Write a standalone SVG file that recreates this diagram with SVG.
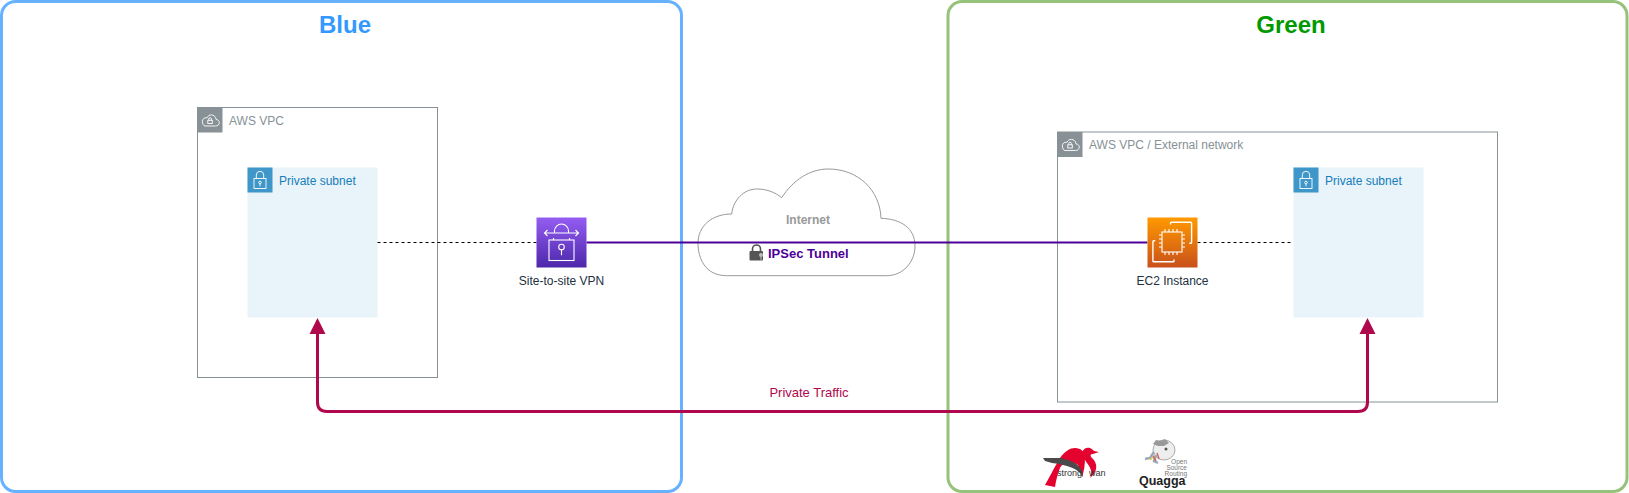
<svg xmlns="http://www.w3.org/2000/svg" width="1629" height="493" viewBox="0 0 1629 493">
<style>
text{font-family:"Liberation Sans",Arial,sans-serif;font-size:12px}
.mid{text-anchor:middle}
.vpc{fill:#fff;stroke:#879196;stroke-width:1}
.vpcicon{fill:#879196}
.vpctext{fill:#879196}
.sub{fill:#E9F3FA}
.subicon{fill:#3F97C9}
.subtext{fill:#147EBA}
.lbl{fill:#232F3E}
.ic{fill:none;stroke:#fff;stroke-width:1.1}
.pane{fill:#fff;stroke-width:3}
.title{font-size:24px;font-weight:bold}
</style>
<defs>
<linearGradient id="gv" x1="0" y1="1" x2="0" y2="0"><stop offset="0" stop-color="#4D27AA"/><stop offset="1" stop-color="#945DF2"/></linearGradient>
<linearGradient id="ge" x1="0" y1="1" x2="0" y2="0"><stop offset="0" stop-color="#C8511B"/><stop offset="1" stop-color="#FF9900"/></linearGradient>
<g id="vpcglyph"><path class="ic" d="M7.500 18.500h10.500c2.500 0 3.800-1.600 3.800-3.300 0-2-1.600-3.200-3.200-3.200-.2-3-2.500-4.600-4.800-4.600-2 0-3.600 1.200-4.300 2.900-2.800-.6-4.600 1.300-4.600 3.600 0 2.500 1.200 4.600 2.600 4.600z" style="stroke-width:.9"/><rect class="ic" x="10.300" y="12.800" width="4.500" height="3.200" style="stroke-width:.9"/><path class="ic" d="M11.200 12.800v-1.200a1.300 1.300 0 0 1 2.700 0v1.200" style="stroke-width:.9"/></g>
<g id="subglyph"><rect class="ic" x="6.500" y="11" width="12" height="10" style="stroke-width:.9"/><path class="ic" d="M8.800 11V7.500a3.700 3.700 0 0 1 7.400 0V11" style="stroke-width:.9"/><circle class="ic" cx="12.500" cy="15" r="1.300" style="stroke-width:.9"/><path class="ic" d="M12.500 16.300v2.500" style="stroke-width:.9"/></g>
</defs>

<g id="blue-region"><rect class="pane" x="1.500" y="1.500" width="680" height="490" rx="14" stroke="#66B2FF" fill="#fff"/><text class="title mid" x="345" y="33" fill="#3399FF">Blue</text></g>
<g id="green-region"><rect class="pane" x="948" y="1.500" width="679" height="490" rx="14" stroke="#97C27C" fill="none"/><text class="title mid" x="1291" y="33" fill="#009900">Green</text></g>

<g id="vpc-blue"><rect class="vpc" x="197.500" y="107.500" width="240" height="270"/><rect class="vpcicon" x="197.500" y="107.500" width="25" height="25"/><use href="#vpcglyph" x="197.500" y="107.500"/><text class="vpctext" x="229" y="125">AWS VPC</text></g>
<g id="subnet-blue"><rect class="sub" x="247.500" y="167.500" width="130" height="150"/><rect class="subicon" x="247.500" y="167.500" width="25" height="25"/><use href="#subglyph" x="247.500" y="167.500"/><text class="subtext" x="279" y="185">Private subnet</text></g>

<g id="vpc-green"><rect class="vpc" x="1057.500" y="132" width="440" height="270"/><rect class="vpcicon" x="1057.500" y="132" width="25" height="25"/><use href="#vpcglyph" x="1057.500" y="132"/><text class="vpctext" x="1089" y="149">AWS VPC / External network</text></g>
<g id="subnet-green"><rect class="sub" x="1293.500" y="167.500" width="130" height="150"/><rect class="subicon" x="1293.500" y="167.500" width="25" height="25"/><use href="#subglyph" x="1293.500" y="167.500"/><text class="subtext" x="1325" y="185">Private subnet</text></g>

<g id="internet"><path d="M726.700 275.700C705 275.700 698 258 698 243.300C698 226 712 214 731.700 214C733 200 744 189 756.700 189C766 189 775 192 781.700 197.700C793 180 810 169 828.300 169C858 169 880 190 881 218.300C901 219 915 228 915 246C915 262 903 275.700 886.700 275.700Z" fill="#fff" stroke="#999" stroke-width="1"/><text class="mid" x="808" y="224" fill="#999" style="font-weight:bold">Internet</text></g>

<g id="connectors" fill="none">
<path d="M377.500 242.500H537" stroke="#000" stroke-dasharray="3 3"/>
<path d="M1197.500 242.500H1293.500" stroke="#000" stroke-dasharray="3 3"/>
<path d="M586.500 242.500H1147.500" stroke="#4C0099" stroke-width="2"/>
<path d="M317.500 334V402Q317.500 411.500 327 411.500H1358Q1367.500 411.500 1367.500 402V334" stroke="#B0084C" stroke-width="3"/>
<path d="M309.500 334H325.500L317.500 318ZM1359.500 334H1375.500L1367.500 318Z" fill="#B0084C"/>
</g>

<g id="ipsec-label"><path d="M752.500 251.500v-2.500a4 4 0 0 1 8 0v2.500" fill="none" stroke="#555" stroke-width="1.600"/><rect x="749.500" y="251" width="13.500" height="9.500" rx="1" fill="#555"/><circle cx="761" cy="255" r="2" fill="#bbb"/><path d="M761 256v4" stroke="#bbb"/><text x="768" y="258.300" fill="#4C0099" style="font-weight:bold;font-size:13px">IPSec Tunnel</text></g>
<g id="traffic-label"><text class="mid" x="809" y="397" fill="#B0084C" style="font-size:13px">Private Traffic</text></g>

<g id="vpn"><rect x="536.500" y="217.500" width="50" height="50" fill="url(#gv)"/>
<rect class="ic" x="549" y="240" width="25" height="20.500"/><circle class="ic" cx="561.500" cy="247" r="2.800"/><path class="ic" d="M561.500 249.800v5.500M553.500 240v-2M569.500 240v-2M544.500 233H578.500M547.500 230l-3 3 3 3M575.500 230l3 3-3 3M554.500 233v-2a7 7 0 0 1 14 0v2"/>
<text class="lbl mid" x="561.500" y="285">Site-to-site VPN</text></g>

<g id="ec2"><rect x="1147.500" y="217.500" width="50" height="50" fill="url(#ge)"/>
<rect class="ic" x="1162" y="232" width="20" height="20"/>
<path class="ic" d="M1170.500 224.500v-1.500q0-.8.800-.8h19.500q.8 0 .8.800v19.500q0 .8-.8.800h-1.500M1174 259.500v1.500q0 .8-.8.800h-19.500q-.8 0-.8-.800v-19.500q0-.8.800-.8h1.500" style="stroke-width:1.400"/>
<path class="ic" d="M1165 232v-3M1169 232v-3M1173 232v-3M1177 232v-3M1165 255v-3M1169 255v-3M1173 255v-3M1177 255v-3M1162 235h-3M1162 239h-3M1162 243h-3M1162 247h-3M1185 235h-3M1185 239h-3M1185 243h-3M1185 247h-3"/>
<text class="lbl mid" x="1172.500" y="285">EC2 Instance</text></g>

<g id="strongswan">
<path d="M1045 485C1049 478 1054 468 1060 458C1065 451 1070 448 1075 448C1081 448 1085 452 1085 458C1085 465 1084 471 1082 477L1078 465C1075 463 1072 463 1070 463C1065 463 1061 465 1060 468C1058 473 1056 480 1055 487Z" fill="#E4032E"/>
<path d="M1082 452C1084 448 1087 447 1090 448C1092 449 1093 450 1094 451L1099 452L1093 454C1090 454 1090 456 1092 458C1098 463 1098 472 1090 478C1094 470 1088 465 1085 460C1083 457 1082 455 1082 452Z" fill="#E4032E"/>
<path d="M1043 458L1060 458C1072 460 1083 465 1083 477C1079 469 1068 465 1052 463L1045 461Z" fill="#4a4a4a"/>
<text x="1057" y="475.500" fill="#333" style="font-size:9px">strong</text><text x="1089" y="475.500" fill="#333" style="font-size:9px">wan</text>
</g>
<g id="quagga">
<ellipse cx="1164" cy="450" rx="11" ry="10" fill="#eee" stroke="#aaa"/><path d="M1153 444l3-4 5 1 4-2 4 4-5 3-6 0z" fill="#999"/><circle cx="1166" cy="449" r="1.500" fill="#555"/>
<path d="M1154 452l-4 6-5 1M1156 455l-2 6 4 2" fill="none" stroke="#9ab" stroke-width="2.500"/><path d="M1153 456l3 5M1157 453l2 6" stroke="#c66" stroke-width="1.500"/><path d="M1150 460l3-3" stroke="#dc4" stroke-width="1.500"/>
<text x="1187" y="463.500" text-anchor="end" fill="#777" style="font-size:6.500px">Open</text><text x="1187" y="469.500" text-anchor="end" fill="#777" style="font-size:6.500px">Source</text><text x="1187" y="475.500" text-anchor="end" fill="#777" style="font-size:6.500px">Routing</text>
<text x="1139" y="484.500" fill="#222" style="font-size:12.500px;font-weight:bold">Quagga</text>
</g>
</svg>
